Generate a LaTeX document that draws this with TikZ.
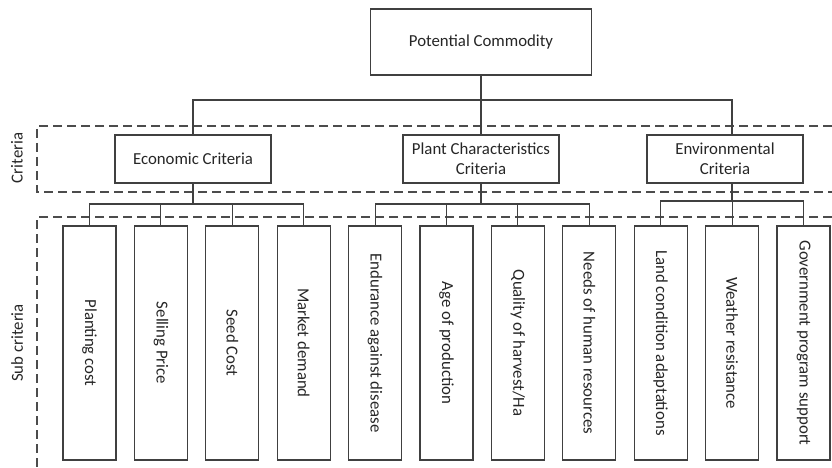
\documentclass[tikz,border=0pt]{standalone}
\usepackage{fontspec}
\setmainfont{Carlito}
\begin{document}
\begin{tikzpicture}[x=1pt,y=-1pt,
  lc/.style={draw=black!75,line width=1.1pt},
  box/.style={lc,fill=white,inner sep=0pt,align=center,font=\fontsize{16.8}{20}\selectfont,text=black!85},
  subbox/.style={box,minimum width=53pt,minimum height=234pt},
  crit/.style={box,minimum width=156pt,minimum height=48pt},
  conn/.style={lc},
  groupframe/.style={draw=black!70,line width=1.1pt,dash pattern=on 9pt off 5pt},
  side/.style={font=\fontsize{16.8}{20}\selectfont,text=black!85,rotate=90}]
\useasboundingbox (0,0) rectangle (832,468);
% dashed group frames
\draw[groupframe] (832,126) -- (37,126) -- (37,192) -- (832,192);
\draw[groupframe] (832,217) -- (37,217) -- (37,468);
\node[side] (lblc) at (17,158) {Criteria};
\node[side] (lbls) at (17,343) {Sub criteria};
% nodes
\node[box,minimum width=221pt,minimum height=66pt] (top) at (481,42) {Potential Commodity};
\node[crit] (econ) at (193,159) {Economic Criteria};
\node[crit] (plant) at (481,159) {Plant Characteristics\\Criteria};
\node[crit] (env) at (725,159) {Environmental\\Criteria};
\foreach \i/\t in {1/{Planting cost},2/{Selling Price},3/{Seed Cost},4/{Market demand},5/{Endurance against disease},6/{Age of production},7/{Quality of harvest/Ha},8/{Needs of human resources},9/{Land condition adaptations},10/{Weather resistance},11/{Government program support}}{
  \node[subbox] (s\i) at ({89.5+71.4*(\i-1)},343) {\rotatebox{-90}{\t}};
}
\coordinate (envtop) at ([xshift=7pt]env.north);
\coordinate (envbot) at ([xshift=7pt]env.south);
% top level connectors
\draw[conn] (top.south) -- (plant.north);
\draw[conn] (econ.north) -- (econ.north |- 0,100) -- (envtop |- 0,100) -- (envtop);
% economic
\draw[conn] (econ.south) -- (econ.south |- 0,204);
\draw[conn] (s1.north) -- (s1.north |- 0,204) -- (s4.north |- 0,204) -- (s4.north);
\draw[conn] (s2.north) -- (s2.north |- 0,204);
\draw[conn] (s3.north) -- (s3.north |- 0,204);
% plant
\draw[conn] (plant.south) -- (plant.south |- 0,204);
\draw[conn] (s5.north) -- (s5.north |- 0,204) -- (s8.north |- 0,204) -- (s8.north);
\draw[conn] (s6.north) -- (s6.north |- 0,204);
\draw[conn] (s7.north) -- (s7.north |- 0,204);
% environmental
\draw[conn] (envbot) -- (envbot |- 0,201);
\draw[conn] (s9.north) -- (s9.north |- 0,201) -- (s11.north |- 0,201) -- (s11.north);
\draw[conn] (s10.north) -- (s10.north |- 0,201);
\end{tikzpicture}
\end{document}
